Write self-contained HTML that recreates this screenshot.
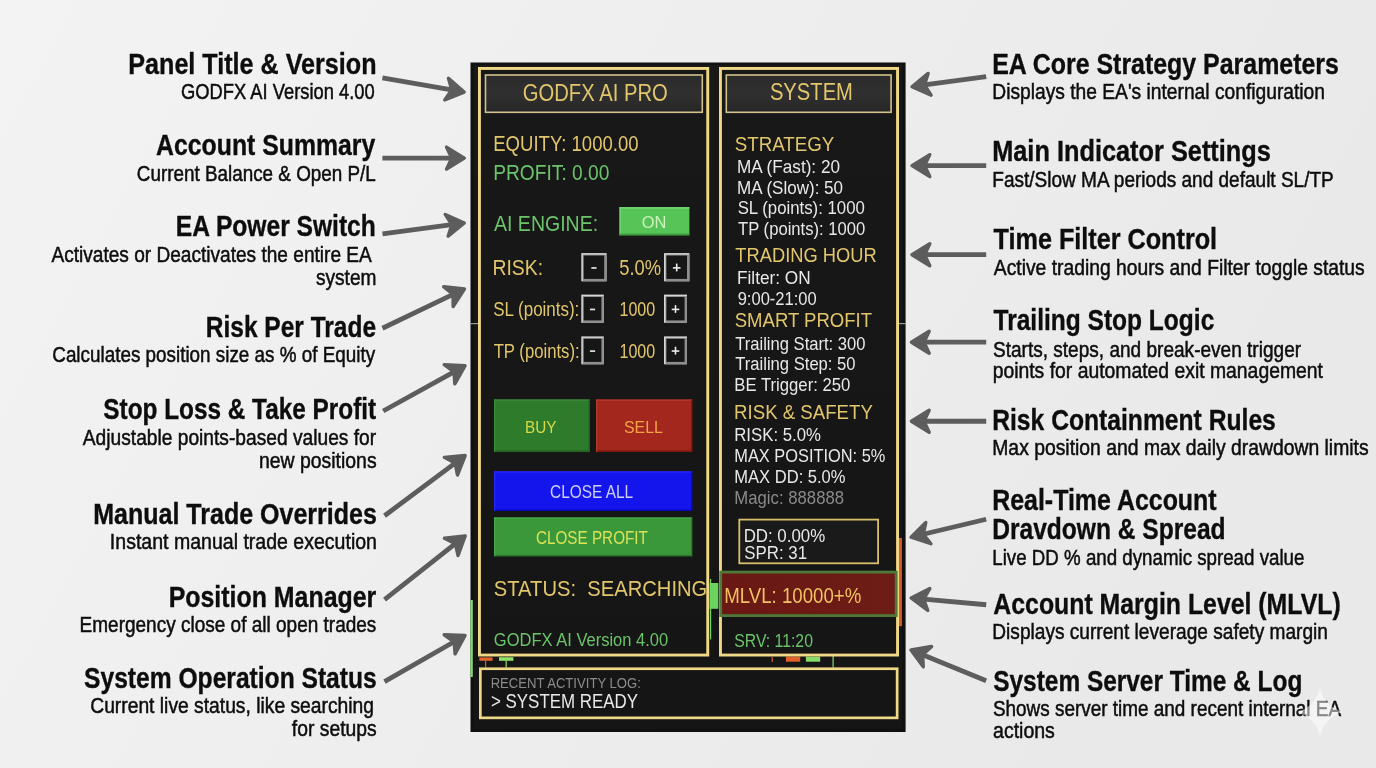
<!DOCTYPE html>
<html><head><meta charset="utf-8"><title>GODFX AI PRO Panel Guide</title>
<style>
html,body{margin:0;padding:0;background:#efefef;width:1376px;height:768px;overflow:hidden}
svg{display:block;will-change:transform}
text{font-family:"Liberation Sans",sans-serif}
</style></head><body>
<svg width="1376" height="768" viewBox="0 0 1376 768">
<defs>
<linearGradient id="bg" x1="0" y1="0" x2="1" y2="0.3"><stop offset="0" stop-color="#f3f3f3"/><stop offset="1" stop-color="#e9e9e9"/></linearGradient>
<linearGradient id="pbg" x1="0" y1="0" x2="0" y2="1"><stop offset="0" stop-color="#181818"/><stop offset="1" stop-color="#151515"/></linearGradient>
<linearGradient id="tbg" x1="0" y1="0" x2="0" y2="1"><stop offset="0" stop-color="#2a2a2a"/><stop offset="0.5" stop-color="#303030"/><stop offset="1" stop-color="#262626"/></linearGradient>
<linearGradient id="mbg" x1="0" y1="0" x2="1" y2="0"><stop offset="0" stop-color="#6a1813"/><stop offset="1" stop-color="#6e1c16"/></linearGradient>
</defs>
<rect x="0" y="0" width="1376" height="768" fill="url(#bg)"/>
<g transform="translate(465.50,92.30) rotate(9.834)"><line x1="-84.33" y1="0" x2="-14" y2="0" stroke="#5d5d5d" stroke-width="4.8" stroke-linecap="butt"/><path d="M-1.4,0 L-19.2,-11 L-14,0 L-19.2,11 Z" fill="#5d5d5d" stroke="#5d5d5d" stroke-width="3.4" stroke-linejoin="round"/></g>
<g transform="translate(465.70,158.10) rotate(-0.069)"><line x1="-83.30" y1="0" x2="-14" y2="0" stroke="#5d5d5d" stroke-width="4.8" stroke-linecap="butt"/><path d="M-1.4,0 L-19.2,-11 L-14,0 L-19.2,11 Z" fill="#5d5d5d" stroke="#5d5d5d" stroke-width="3.4" stroke-linejoin="round"/></g>
<g transform="translate(465.70,222.80) rotate(-7.586)"><line x1="-83.93" y1="0" x2="-14" y2="0" stroke="#5d5d5d" stroke-width="4.8" stroke-linecap="butt"/><path d="M-1.4,0 L-19.2,-11 L-14,0 L-19.2,11 Z" fill="#5d5d5d" stroke="#5d5d5d" stroke-width="3.4" stroke-linejoin="round"/></g>
<g transform="translate(465.70,288.40) rotate(-25.587)"><line x1="-92.29" y1="0" x2="-14" y2="0" stroke="#5d5d5d" stroke-width="4.8" stroke-linecap="butt"/><path d="M-1.4,0 L-19.2,-11 L-14,0 L-19.2,11 Z" fill="#5d5d5d" stroke="#5d5d5d" stroke-width="3.4" stroke-linejoin="round"/></g>
<g transform="translate(466.30,365.00) rotate(-28.954)"><line x1="-95.00" y1="0" x2="-14" y2="0" stroke="#5d5d5d" stroke-width="4.8" stroke-linecap="butt"/><path d="M-1.4,0 L-19.2,-11 L-14,0 L-19.2,11 Z" fill="#5d5d5d" stroke="#5d5d5d" stroke-width="3.4" stroke-linejoin="round"/></g>
<g transform="translate(466.30,454.70) rotate(-36.746)"><line x1="-102.06" y1="0" x2="-14" y2="0" stroke="#5d5d5d" stroke-width="4.8" stroke-linecap="butt"/><path d="M-1.4,0 L-19.2,-11 L-14,0 L-19.2,11 Z" fill="#5d5d5d" stroke="#5d5d5d" stroke-width="3.4" stroke-linejoin="round"/></g>
<g transform="translate(466.30,535.00) rotate(-38.340)"><line x1="-104.25" y1="0" x2="-14" y2="0" stroke="#5d5d5d" stroke-width="4.8" stroke-linecap="butt"/><path d="M-1.4,0 L-19.2,-11 L-14,0 L-19.2,11 Z" fill="#5d5d5d" stroke="#5d5d5d" stroke-width="3.4" stroke-linejoin="round"/></g>
<g transform="translate(466.30,634.80) rotate(-29.768)"><line x1="-94.26" y1="0" x2="-14" y2="0" stroke="#5d5d5d" stroke-width="4.8" stroke-linecap="butt"/><path d="M-1.4,0 L-19.2,-11 L-14,0 L-19.2,11 Z" fill="#5d5d5d" stroke="#5d5d5d" stroke-width="3.4" stroke-linejoin="round"/></g>
<g transform="translate(910.60,86.90) rotate(172.180)"><line x1="-76.30" y1="0" x2="-14" y2="0" stroke="#5d5d5d" stroke-width="4.8" stroke-linecap="butt"/><path d="M-1.4,0 L-19.2,-11 L-14,0 L-19.2,11 Z" fill="#5d5d5d" stroke="#5d5d5d" stroke-width="3.4" stroke-linejoin="round"/></g>
<g transform="translate(910.60,165.60) rotate(180.000)"><line x1="-75.60" y1="0" x2="-14" y2="0" stroke="#5d5d5d" stroke-width="4.8" stroke-linecap="butt"/><path d="M-1.4,0 L-19.2,-11 L-14,0 L-19.2,11 Z" fill="#5d5d5d" stroke="#5d5d5d" stroke-width="3.4" stroke-linejoin="round"/></g>
<g transform="translate(910.60,254.70) rotate(180.000)"><line x1="-75.60" y1="0" x2="-14" y2="0" stroke="#5d5d5d" stroke-width="4.8" stroke-linecap="butt"/><path d="M-1.4,0 L-19.2,-11 L-14,0 L-19.2,11 Z" fill="#5d5d5d" stroke="#5d5d5d" stroke-width="3.4" stroke-linejoin="round"/></g>
<g transform="translate(910.00,342.20) rotate(180.000)"><line x1="-76.20" y1="0" x2="-14" y2="0" stroke="#5d5d5d" stroke-width="4.8" stroke-linecap="butt"/><path d="M-1.4,0 L-19.2,-11 L-14,0 L-19.2,11 Z" fill="#5d5d5d" stroke="#5d5d5d" stroke-width="3.4" stroke-linejoin="round"/></g>
<g transform="translate(910.00,421.25) rotate(180.000)"><line x1="-76.20" y1="0" x2="-14" y2="0" stroke="#5d5d5d" stroke-width="4.8" stroke-linecap="butt"/><path d="M-1.4,0 L-19.2,-11 L-14,0 L-19.2,11 Z" fill="#5d5d5d" stroke="#5d5d5d" stroke-width="3.4" stroke-linejoin="round"/></g>
<g transform="translate(909.70,537.50) rotate(166.587)"><line x1="-78.63" y1="0" x2="-14" y2="0" stroke="#5d5d5d" stroke-width="4.8" stroke-linecap="butt"/><path d="M-1.4,0 L-19.2,-11 L-14,0 L-19.2,11 Z" fill="#5d5d5d" stroke="#5d5d5d" stroke-width="3.4" stroke-linejoin="round"/></g>
<g transform="translate(909.70,597.80) rotate(-174.806)"><line x1="-76.81" y1="0" x2="-14" y2="0" stroke="#5d5d5d" stroke-width="4.8" stroke-linecap="butt"/><path d="M-1.4,0 L-19.2,-11 L-14,0 L-19.2,11 Z" fill="#5d5d5d" stroke="#5d5d5d" stroke-width="3.4" stroke-linejoin="round"/></g>
<g transform="translate(909.70,649.40) rotate(-157.654)"><line x1="-82.66" y1="0" x2="-14" y2="0" stroke="#5d5d5d" stroke-width="4.8" stroke-linecap="butt"/><path d="M-1.4,0 L-19.2,-11 L-14,0 L-19.2,11 Z" fill="#5d5d5d" stroke="#5d5d5d" stroke-width="3.4" stroke-linejoin="round"/></g>
<rect x="470.50" y="62.50" width="435.10" height="669.50" fill="#111111" />
<rect x="474.00" y="65.00" width="428.00" height="664.00" fill="url(#pbg)" />
<rect x="470.50" y="323.00" width="7.50" height="1.20" fill="#9a9a9a" />
<rect x="899.00" y="323.00" width="6.60" height="1.20" fill="#9a9a9a" />
<rect x="470.50" y="600.00" width="2.30" height="77.00" fill="#7fdc6c" />
<rect x="898.70" y="538.00" width="3.20" height="88.20" fill="#d95a2c" />
<rect x="710.00" y="579.00" width="1.20" height="60.40" fill="#6cd860" />
<rect x="709.60" y="583.00" width="8.70" height="25.80" fill="#6ad45e" />
<rect x="479.30" y="657.40" width="13.30" height="3.40" fill="#e0642c" />
<rect x="485.00" y="660.50" width="1.20" height="7.00" fill="#d86030" />
<rect x="499.00" y="657.20" width="14.40" height="3.60" fill="#8ee066" />
<rect x="505.60" y="660.50" width="1.20" height="7.00" fill="#8ee066" />
<rect x="771.60" y="657.00" width="1.20" height="5.00" fill="#d86030" />
<rect x="785.90" y="656.60" width="14.30" height="5.10" fill="#e0602c" />
<rect x="805.90" y="656.60" width="14.30" height="5.10" fill="#86dc66" />
<rect x="832.50" y="656.00" width="1.20" height="11.50" fill="#86dc66" />
<rect x="479.45" y="68.45" width="228.30" height="586.60" fill="none" stroke="#efd886" stroke-width="2.9" />
<rect x="720.45" y="68.45" width="177.10" height="586.60" fill="none" stroke="#efd886" stroke-width="2.9" />
<rect x="485.50" y="75.00" width="216.80" height="37.30" fill="url(#tbg)" stroke="#d2c28a" stroke-width="1.6" />
<rect x="726.30" y="75.00" width="164.80" height="37.30" fill="url(#tbg)" stroke="#d2c28a" stroke-width="1.6" />
<rect x="619.50" y="207.20" width="69.90" height="28.10" fill="#57c457" />
<rect x="619.50" y="207.20" width="69.90" height="1.40" fill="#7ad77a" />
<rect x="619.50" y="207.20" width="1.40" height="28.10" fill="#74d474" />
<rect x="619.50" y="233.60" width="69.90" height="1.70" fill="#3f9a3f" />
<rect x="581.30" y="253.10" width="25.30" height="28.20" fill="#d6d6d6" /><rect x="582.80" y="254.60" width="23.80" height="26.70" fill="#8e8e8e" /><rect x="583.70" y="255.50" width="20.50" height="23.40" fill="#161616" /><rect x="591.35" y="267.10" width="5.20" height="1.70" fill="#e0e0e0" />
<rect x="664.00" y="253.10" width="25.40" height="28.20" fill="#d6d6d6" /><rect x="665.50" y="254.60" width="23.90" height="26.70" fill="#8e8e8e" /><rect x="666.40" y="255.50" width="20.60" height="23.40" fill="#161616" /><rect x="672.90" y="267.10" width="7.60" height="1.60" fill="#ececec" /><rect x="675.90" y="263.60" width="1.60" height="7.80" fill="#ececec" />
<rect x="581.30" y="294.60" width="22.50" height="28.20" fill="#d6d6d6" /><rect x="582.80" y="296.10" width="21.00" height="26.70" fill="#8e8e8e" /><rect x="583.70" y="297.00" width="17.70" height="23.40" fill="#161616" /><rect x="589.95" y="308.60" width="5.20" height="1.70" fill="#e0e0e0" />
<rect x="664.00" y="294.60" width="23.00" height="28.20" fill="#d6d6d6" /><rect x="665.50" y="296.10" width="21.50" height="26.70" fill="#8e8e8e" /><rect x="666.40" y="297.00" width="18.20" height="23.40" fill="#161616" /><rect x="671.70" y="308.60" width="7.60" height="1.60" fill="#ececec" /><rect x="674.70" y="305.10" width="1.60" height="7.80" fill="#ececec" />
<rect x="581.30" y="336.40" width="22.50" height="27.90" fill="#d6d6d6" /><rect x="582.80" y="337.90" width="21.00" height="26.40" fill="#8e8e8e" /><rect x="583.70" y="338.80" width="17.70" height="23.10" fill="#161616" /><rect x="589.95" y="350.25" width="5.20" height="1.70" fill="#e0e0e0" />
<rect x="664.00" y="336.40" width="23.00" height="27.90" fill="#d6d6d6" /><rect x="665.50" y="337.90" width="21.50" height="26.40" fill="#8e8e8e" /><rect x="666.40" y="338.80" width="18.20" height="23.10" fill="#161616" /><rect x="671.70" y="350.25" width="7.60" height="1.60" fill="#ececec" /><rect x="674.70" y="346.75" width="1.60" height="7.80" fill="#ececec" />
<rect x="494.00" y="399.50" width="95.70" height="52.30" fill="#2e7b2b" /><rect x="494.00" y="399.50" width="95.70" height="1.30" fill="#3c8c38" /><rect x="494.00" y="450.30" width="95.70" height="1.50" fill="#226420" /><rect x="494.00" y="399.50" width="1.20" height="52.30" fill="#3c8c38" /><rect x="588.50" y="399.50" width="1.20" height="52.30" fill="#226420" />
<rect x="596.00" y="399.50" width="96.20" height="52.30" fill="#a3271d" /><rect x="596.00" y="399.50" width="96.20" height="1.30" fill="#b53a2e" /><rect x="596.00" y="450.30" width="96.20" height="1.50" fill="#7e1a12" /><rect x="596.00" y="399.50" width="1.20" height="52.30" fill="#b53a2e" /><rect x="691.00" y="399.50" width="1.20" height="52.30" fill="#7e1a12" />
<rect x="494.00" y="471.30" width="198.20" height="39.60" fill="#1414ec" /><rect x="494.00" y="471.30" width="198.20" height="1.30" fill="#2a2af5" /><rect x="494.00" y="509.40" width="198.20" height="1.50" fill="#0b0bb8" /><rect x="494.00" y="471.30" width="1.20" height="39.60" fill="#2a2af5" /><rect x="691.00" y="471.30" width="1.20" height="39.60" fill="#0b0bb8" />
<rect x="494.00" y="517.50" width="198.20" height="38.70" fill="#3a983a" /><rect x="494.00" y="517.50" width="198.20" height="1.30" fill="#4aa84a" /><rect x="494.00" y="554.70" width="198.20" height="1.50" fill="#2a7a2a" /><rect x="494.00" y="517.50" width="1.20" height="38.70" fill="#4aa84a" /><rect x="691.00" y="517.50" width="1.20" height="38.70" fill="#2a7a2a" />
<rect x="739.30" y="519.60" width="138.80" height="43.70" fill="#1a1a1a" stroke="#d8bf6a" stroke-width="1.8" />
<rect x="720.70" y="572.10" width="175.50" height="43.50" fill="url(#mbg)" stroke="#4e7936" stroke-width="2.8" />
<rect x="480.35" y="668.75" width="416.80" height="49.10" fill="#151515" stroke="#efd886" stroke-width="2.7" />
<text transform="translate(128.27,74.00) scale(0.8525,1)" font-size="29.51" font-weight="bold" stroke="#0d0d0d" stroke-width="0.35" fill="#0d0d0d" xml:space="preserve">Panel Title &amp; Version</text>
<text transform="translate(181.08,98.90) scale(0.8351,1)" font-size="21.95" stroke="#0d0d0d" stroke-width="0.5" fill="#0d0d0d" xml:space="preserve">GODFX AI Version 4.00</text>
<text transform="translate(156.10,155.10) scale(0.8409,1)" font-size="29.51" font-weight="bold" stroke="#0d0d0d" stroke-width="0.35" fill="#0d0d0d" xml:space="preserve">Account Summary</text>
<text transform="translate(136.86,180.50) scale(0.8593,1)" font-size="21.95" stroke="#0d0d0d" stroke-width="0.5" fill="#0d0d0d" xml:space="preserve">Current Balance &amp; Open P/L</text>
<text transform="translate(175.80,236.40) scale(0.8340,1)" font-size="29.51" font-weight="bold" stroke="#0d0d0d" stroke-width="0.35" fill="#0d0d0d" xml:space="preserve">EA Power Switch</text>
<text transform="translate(51.40,261.80) scale(0.8701,1)" font-size="21.95" stroke="#0d0d0d" stroke-width="0.5" fill="#0d0d0d" xml:space="preserve">Activates or Deactivates the entire EA</text>
<text transform="translate(315.93,284.70) scale(0.8715,1)" font-size="21.95" stroke="#0d0d0d" stroke-width="0.5" fill="#0d0d0d" xml:space="preserve">system</text>
<text transform="translate(205.81,336.60) scale(0.8305,1)" font-size="29.51" font-weight="bold" stroke="#0d0d0d" stroke-width="0.35" fill="#0d0d0d" xml:space="preserve">Risk Per Trade</text>
<text transform="translate(52.26,362.00) scale(0.8598,1)" font-size="21.95" stroke="#0d0d0d" stroke-width="0.5" fill="#0d0d0d" xml:space="preserve">Calculates position size as % of Equity</text>
<text transform="translate(103.29,419.30) scale(0.8254,1)" font-size="29.51" font-weight="bold" stroke="#0d0d0d" stroke-width="0.35" fill="#0d0d0d" xml:space="preserve">Stop Loss &amp; Take Profit</text>
<text transform="translate(82.80,445.00) scale(0.8746,1)" font-size="21.95" stroke="#0d0d0d" stroke-width="0.5" fill="#0d0d0d" xml:space="preserve">Adjustable points-based values for</text>
<text transform="translate(258.94,467.70) scale(0.8854,1)" font-size="21.95" stroke="#0d0d0d" stroke-width="0.5" fill="#0d0d0d" xml:space="preserve">new positions</text>
<text transform="translate(93.17,523.60) scale(0.8481,1)" font-size="29.51" font-weight="bold" stroke="#0d0d0d" stroke-width="0.35" fill="#0d0d0d" xml:space="preserve">Manual Trade Overrides</text>
<text transform="translate(109.84,549.30) scale(0.8908,1)" font-size="21.95" stroke="#0d0d0d" stroke-width="0.5" fill="#0d0d0d" xml:space="preserve">Instant manual trade execution</text>
<text transform="translate(168.68,606.50) scale(0.8445,1)" font-size="29.51" font-weight="bold" stroke="#0d0d0d" stroke-width="0.35" fill="#0d0d0d" xml:space="preserve">Position Manager</text>
<text transform="translate(79.58,631.60) scale(0.8666,1)" font-size="21.95" stroke="#0d0d0d" stroke-width="0.5" fill="#0d0d0d" xml:space="preserve">Emergency close of all open trades</text>
<text transform="translate(84.08,688.20) scale(0.8345,1)" font-size="29.51" font-weight="bold" stroke="#0d0d0d" stroke-width="0.35" fill="#0d0d0d" xml:space="preserve">System Operation Status</text>
<text transform="translate(90.24,713.40) scale(0.8784,1)" font-size="21.95" stroke="#0d0d0d" stroke-width="0.5" fill="#0d0d0d" xml:space="preserve">Current live status, like searching</text>
<text transform="translate(291.81,735.50) scale(0.8806,1)" font-size="21.95" stroke="#0d0d0d" stroke-width="0.5" fill="#0d0d0d" xml:space="preserve">for setups</text>
<text transform="translate(992.18,73.70) scale(0.8450,1)" font-size="29.51" font-weight="bold" stroke="#0d0d0d" stroke-width="0.35" fill="#0d0d0d" xml:space="preserve">EA Core Strategy Parameters</text>
<text transform="translate(992.26,99.00) scale(0.8760,1)" font-size="21.95" stroke="#0d0d0d" stroke-width="0.5" fill="#0d0d0d" xml:space="preserve">Displays the EA's internal configuration</text>
<text transform="translate(992.15,160.90) scale(0.8588,1)" font-size="29.51" font-weight="bold" stroke="#0d0d0d" stroke-width="0.35" fill="#0d0d0d" xml:space="preserve">Main Indicator Settings</text>
<text transform="translate(992.28,187.30) scale(0.8671,1)" font-size="21.95" stroke="#0d0d0d" stroke-width="0.5" fill="#0d0d0d" xml:space="preserve">Fast/Slow MA periods and default SL/TP</text>
<text transform="translate(993.55,248.80) scale(0.8541,1)" font-size="29.51" font-weight="bold" stroke="#0d0d0d" stroke-width="0.35" fill="#0d0d0d" xml:space="preserve">Time Filter Control</text>
<text transform="translate(993.80,274.70) scale(0.8791,1)" font-size="21.95" stroke="#0d0d0d" stroke-width="0.5" fill="#0d0d0d" xml:space="preserve">Active trading hours and Filter toggle status</text>
<text transform="translate(993.55,330.30) scale(0.8314,1)" font-size="29.51" font-weight="bold" stroke="#0d0d0d" stroke-width="0.35" fill="#0d0d0d" xml:space="preserve">Trailing Stop Logic</text>
<text transform="translate(992.94,356.80) scale(0.8682,1)" font-size="21.95" stroke="#0d0d0d" stroke-width="0.5" fill="#0d0d0d" xml:space="preserve">Starts, steps, and break-even trigger</text>
<text transform="translate(992.64,378.30) scale(0.8822,1)" font-size="21.95" stroke="#0d0d0d" stroke-width="0.5" fill="#0d0d0d" xml:space="preserve">points for automated exit management</text>
<text transform="translate(992.20,429.50) scale(0.8359,1)" font-size="29.51" font-weight="bold" stroke="#0d0d0d" stroke-width="0.35" fill="#0d0d0d" xml:space="preserve">Risk Containment Rules</text>
<text transform="translate(992.25,454.90) scale(0.8817,1)" font-size="21.95" stroke="#0d0d0d" stroke-width="0.5" fill="#0d0d0d" xml:space="preserve">Max position and max daily drawdown limits</text>
<text transform="translate(992.18,510.10) scale(0.8452,1)" font-size="29.51" font-weight="bold" stroke="#0d0d0d" stroke-width="0.35" fill="#0d0d0d" xml:space="preserve">Real-Time Account</text>
<text transform="translate(992.20,538.90) scale(0.8325,1)" font-size="29.51" font-weight="bold" stroke="#0d0d0d" stroke-width="0.35" fill="#0d0d0d" xml:space="preserve">Dravdown &amp; Spread</text>
<text transform="translate(992.30,564.80) scale(0.8530,1)" font-size="21.95" stroke="#0d0d0d" stroke-width="0.5" fill="#0d0d0d" xml:space="preserve">Live DD % and dynamic spread value</text>
<text transform="translate(993.30,614.00) scale(0.8425,1)" font-size="29.51" font-weight="bold" stroke="#0d0d0d" stroke-width="0.35" fill="#0d0d0d" xml:space="preserve">Account Margin Level (MLVL)</text>
<text transform="translate(992.27,639.00) scale(0.8709,1)" font-size="21.95" stroke="#0d0d0d" stroke-width="0.5" fill="#0d0d0d" xml:space="preserve">Displays current leverage safety margin</text>
<text transform="translate(993.19,690.80) scale(0.8285,1)" font-size="29.51" font-weight="bold" stroke="#0d0d0d" stroke-width="0.35" fill="#0d0d0d" xml:space="preserve">System Server Time &amp; Log</text>
<text transform="translate(992.95,715.80) scale(0.8623,1)" font-size="21.95" stroke="#0d0d0d" stroke-width="0.5" fill="#0d0d0d" xml:space="preserve">Shows server time and recent internal EA</text>
<text transform="translate(993.02,738.30) scale(0.8896,1)" font-size="21.95" stroke="#0d0d0d" stroke-width="0.5" fill="#0d0d0d" xml:space="preserve">actions</text>
<text transform="translate(522.79,100.70) scale(0.8694,1)" font-size="23.28" fill="#e2c66c" xml:space="preserve">GODFX AI PRO</text>
<text transform="translate(493.22,151.30) scale(0.8646,1)" font-size="21.47" fill="#e2c66c" xml:space="preserve">EQUITY: 1000.00</text>
<text transform="translate(493.17,179.60) scale(0.8939,1)" font-size="21.47" fill="#6bc46b" xml:space="preserve">PROFIT: 0.00</text>
<text transform="translate(494.00,230.80) scale(0.8852,1)" font-size="22.07" fill="#6bc46b" xml:space="preserve">AI ENGINE:</text>
<text transform="translate(641.76,228.40) scale(1.0582,1)" font-size="15.57" fill="#cdf2bd" xml:space="preserve">ON</text>
<text transform="translate(492.45,275.30) scale(0.9099,1)" font-size="21.31" fill="#e2c66c" xml:space="preserve">RISK:</text>
<text transform="translate(619.27,275.30) scale(0.8617,1)" font-size="21.31" fill="#e2c66c" xml:space="preserve">5.0%</text>
<text transform="translate(493.24,316.40) scale(0.8701,1)" font-size="19.50" fill="#e2c66c" xml:space="preserve">SL (points):</text>
<text transform="translate(619.49,316.40) scale(0.8250,1)" font-size="19.50" fill="#e2c66c" xml:space="preserve">1000</text>
<text transform="translate(493.67,357.80) scale(0.8564,1)" font-size="19.50" fill="#e2c66c" xml:space="preserve">TP (points):</text>
<text transform="translate(619.49,357.80) scale(0.8250,1)" font-size="19.50" fill="#e2c66c" xml:space="preserve">1000</text>
<text transform="translate(524.97,432.50) scale(0.8987,1)" font-size="17.08" fill="#d6d84a" xml:space="preserve">BUY</text>
<text transform="translate(623.98,432.50) scale(0.9312,1)" font-size="17.08" fill="#f2a446" xml:space="preserve">SELL</text>
<text transform="translate(550.03,498.10) scale(0.8724,1)" font-size="17.69" fill="#cfcfff" xml:space="preserve">CLOSE ALL</text>
<text transform="translate(535.94,543.90) scale(0.8633,1)" font-size="17.69" fill="#dde259" xml:space="preserve">CLOSE PROFIT</text>
<text transform="translate(493.79,596.10) scale(0.8844,1)" font-size="22.83" fill="#e2c66c" xml:space="preserve">STATUS:  SEARCHING</text>
<text transform="translate(493.87,646.00) scale(0.8603,1)" font-size="19.20" fill="#6bc46b" xml:space="preserve">GODFX AI Version 4.00</text>
<text transform="translate(769.89,100.40) scale(0.8737,1)" font-size="23.13" fill="#e2c66c" xml:space="preserve">SYSTEM</text>
<text transform="translate(734.76,150.70) scale(0.9325,1)" font-size="20.10" fill="#e2c66c" xml:space="preserve">STRATEGY</text>
<text transform="translate(737.03,173.00) scale(0.9311,1)" font-size="18.44" fill="#e8e8e8" xml:space="preserve">MA (Fast): 20</text>
<text transform="translate(737.04,193.60) scale(0.9238,1)" font-size="18.44" fill="#e8e8e8" xml:space="preserve">MA (Slow): 50</text>
<text transform="translate(737.64,214.00) scale(0.9111,1)" font-size="18.44" fill="#e8e8e8" xml:space="preserve">SL (points): 1000</text>
<text transform="translate(738.07,234.60) scale(0.9016,1)" font-size="18.44" fill="#e8e8e8" xml:space="preserve">TP (points): 1000</text>
<text transform="translate(735.23,262.10) scale(0.8928,1)" font-size="20.56" fill="#e2c66c" xml:space="preserve">TRADING HOUR</text>
<text transform="translate(737.02,284.10) scale(0.9343,1)" font-size="18.44" fill="#e8e8e8" xml:space="preserve">Filter: ON</text>
<text transform="translate(737.66,304.70) scale(0.8975,1)" font-size="18.44" fill="#e8e8e8" xml:space="preserve">9:00-21:00</text>
<text transform="translate(734.77,327.00) scale(0.9014,1)" font-size="20.56" fill="#e2c66c" xml:space="preserve">SMART PROFIT</text>
<text transform="translate(735.27,349.70) scale(0.8996,1)" font-size="18.44" fill="#e8e8e8" xml:space="preserve">Trailing Start: 300</text>
<text transform="translate(735.27,370.30) scale(0.8999,1)" font-size="18.44" fill="#e8e8e8" xml:space="preserve">Trailing Step: 50</text>
<text transform="translate(734.26,391.40) scale(0.9072,1)" font-size="18.44" fill="#e8e8e8" xml:space="preserve">BE Trigger: 250</text>
<text transform="translate(734.11,419.00) scale(0.9067,1)" font-size="20.56" fill="#e2c66c" xml:space="preserve">RISK &amp; SAFETY</text>
<text transform="translate(734.26,441.30) scale(0.9097,1)" font-size="18.44" fill="#e8e8e8" xml:space="preserve">RISK: 5.0%</text>
<text transform="translate(734.29,462.40) scale(0.8887,1)" font-size="18.44" fill="#e8e8e8" xml:space="preserve">MAX POSITION: 5%</text>
<text transform="translate(734.28,482.80) scale(0.8975,1)" font-size="18.44" fill="#e8e8e8" xml:space="preserve">MAX DD: 5.0%</text>
<text transform="translate(734.26,503.80) scale(0.9078,1)" font-size="18.44" fill="#8a8a8a" xml:space="preserve">Magic: 888888</text>
<text transform="translate(743.65,542.00) scale(0.9154,1)" font-size="18.44" fill="#e8e8e8" xml:space="preserve">DD: 0.00%</text>
<text transform="translate(744.24,558.90) scale(0.9164,1)" font-size="18.44" fill="#e8e8e8" xml:space="preserve">SPR: 31</text>
<text transform="translate(724.21,603.10) scale(0.8640,1)" font-size="21.62" fill="#f0c262" xml:space="preserve">MLVL: 10000+%</text>
<text transform="translate(734.29,646.50) scale(0.8775,1)" font-size="17.99" fill="#6bc46b" xml:space="preserve">SRV: 11:20</text>
<text transform="translate(490.65,688.00) scale(0.8855,1)" font-size="14.81" fill="#8c8c8c" xml:space="preserve">RECENT ACTIVITY LOG:</text>
<text transform="translate(490.94,708.20) scale(0.8621,1)" font-size="19.65" fill="#e8e8e8" xml:space="preserve">&gt; SYSTEM READY</text>
<path d="M1320,688 Q1325,707 1343,712 Q1325,717 1320,736 Q1315,717 1297,712 Q1315,707 1320,688 Z" fill="#ffffff" fill-opacity="0.5"/>
</svg>
</body></html>
